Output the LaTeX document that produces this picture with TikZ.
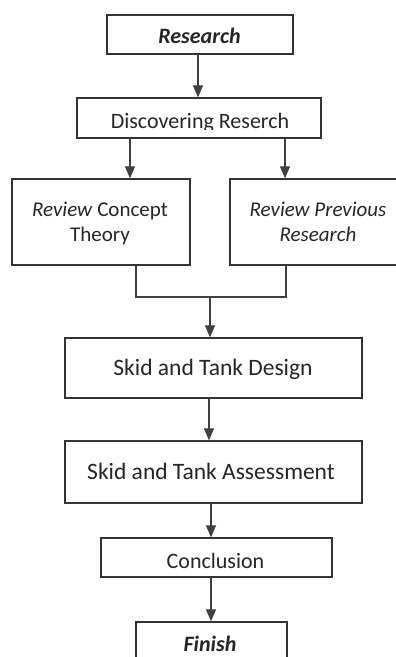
\documentclass[tikz,border=0pt]{standalone}
\usepackage{fontspec}
\setmainfont{Carlito}
\usetikzlibrary{arrows.meta}
\begin{document}
\begin{tikzpicture}[x=1pt,y=-1pt,
  box/.style={draw=black!80, line width=1.4pt, inner sep=0pt, fill=none},
  txt/.style={inner sep=0pt, anchor=base, font=\fontsize{22}{26}\selectfont, text=black!85},
  txtl/.style={inner sep=0pt, anchor=base, font=\fontsize{23.5}{28}\selectfont, text=black!85},
  txts/.style={inner sep=0pt, anchor=base, font=\fontsize{21}{25}\selectfont, text=black!85},
  arr/.style={draw=black!75, line width=1.3pt, -{Triangle[length=12pt,width=10pt]}},
  ln/.style={draw=black!75, line width=1.3pt}]
\path[use as bounding box, clip] (0,0) rectangle (396,657);
\fill[white] (0,0) rectangle (396,657);
% boxes
\node[box, minimum width=186pt, minimum height=39pt] (research) at (200,34.5) {};
\node[box, minimum width=244pt, minimum height=40pt] (disc) at (199,118) {};
\node[box, minimum width=178pt, minimum height=86pt] (rct) at (101,222) {};
\node[box, minimum width=176pt, minimum height=86pt] (rpr) at (318,222) {};
\node[box, minimum width=297pt, minimum height=60pt] (design) at (213.5,368) {};
\node[box, minimum width=297pt, minimum height=62pt] (assess) at (213.5,472) {};
\node[box, minimum width=231pt, minimum height=39pt] (concl) at (216.5,557.5) {};
\node[box, minimum width=151pt, minimum height=44pt] (finish) at (211.5,644) {};
% texts
\node[txt] (tresearch) at (199.5,43.5) {\textbf{\textit{Research}}};
\begin{scope}
\clip (77,98) rectangle (321,129.5);
\node[txt] (tdisc) at (200,128) {Discovering Reserch};
\end{scope}
\node[txts] (trct1) at (100,216.7) {\textit{Review} Concept};
\node[txts] (trct2) at (100,241) {Theory};
\node[txts] (trpr1) at (318,216.7) {\textit{Review Previous}};
\node[txts] (trpr2) at (318,241) {\textit{Research}};
\node[txtl] (tdesign) at (213,375.7) {Skid and Tank Design};
\node[txtl] (tassess) at (211,479) {Skid and Tank Assessment};
\node[txt] (tconcl) at (215.5,568.3) {Conclusion};
\node[txt] (tfinish) at (210,651.7) {\textbf{\textit{Finish}}};
% connectors
\draw[arr] ([xshift=-2pt]research.south) -- ([xshift=-2pt]research.south |- disc.north);
\draw[arr] ([xshift=-69pt]disc.south) -- ([xshift=-69pt]disc.south |- rct.north);
\draw[arr] ([xshift=86pt]disc.south) -- ([xshift=86pt]disc.south |- rpr.north);
\coordinate (mj) at (210,297);
\draw[ln] ([xshift=35pt]rct.south) |- (mj) -| ([xshift=-32pt]rpr.south);
\draw[arr] (mj) -- (mj |- design.north);
\draw[arr] ([xshift=-4.5pt]design.south) -- ([xshift=-4.5pt]design.south |- assess.north);
\draw[arr] ([xshift=-2.5pt]assess.south) -- ([xshift=-2.5pt]assess.south |- concl.north);
\draw[arr] ([xshift=-5.5pt]concl.south) -- ([xshift=-5.5pt]concl.south |- finish.north);
\end{tikzpicture}
\end{document}
